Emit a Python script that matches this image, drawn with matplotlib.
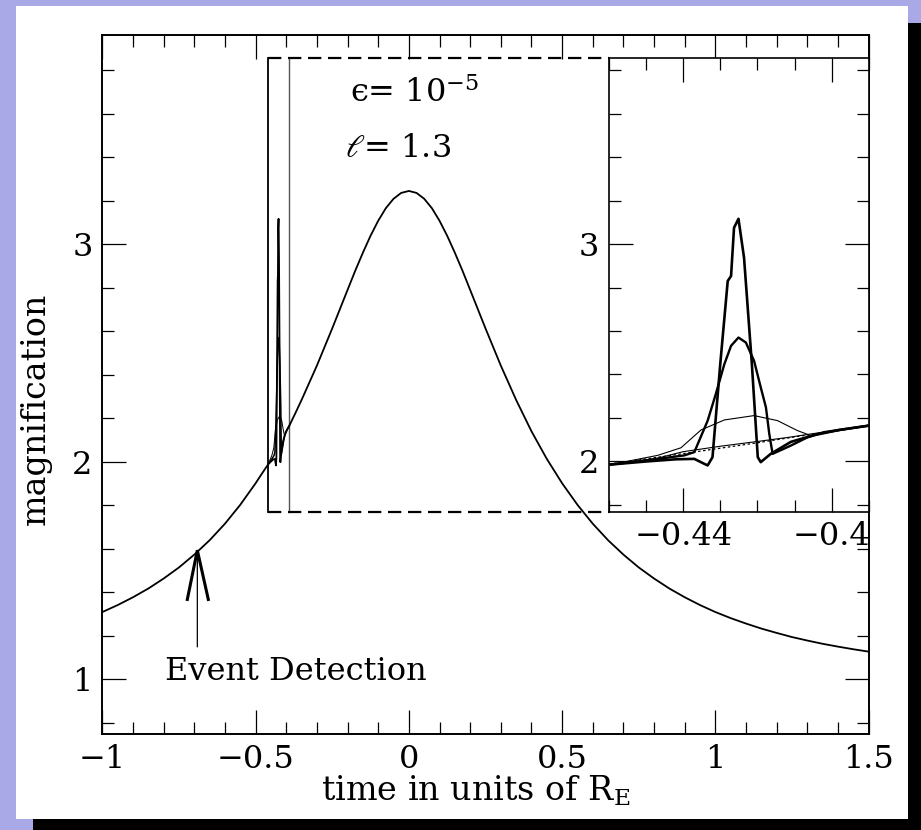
import matplotlib
matplotlib.use('Agg')
import matplotlib.pyplot as plt
from matplotlib.patches import Rectangle
from matplotlib.ticker import FixedLocator, FixedFormatter, MultipleLocator

plt.rcParams['font.family'] = ['DejaVu Serif', 'DejaVu Sans']
plt.rcParams['mathtext.fontset'] = 'dejavuserif'

# ---------------- data ----------------
# main light curve, left wing (before the planetary perturbation)
t_left = [-1.0, -0.95, -0.9, -0.85, -0.8, -0.75, -0.7, -0.65, -0.6, -0.55, -0.5, -0.48]
A_left = [1.308, 1.340, 1.376, 1.416, 1.462, 1.513, 1.572, 1.638, 1.714, 1.801, 1.900, 1.943]

# sharp perturbation (smallest source) - shown in main panel and inset
t_sharp = [-0.4595, -0.450, -0.442, -0.437, -0.4343, -0.4334, -0.4321, -0.4300, -0.4280, -0.4271,
           -0.4263, -0.4251, -0.4236, -0.4215, -0.4199, -0.4191, -0.4164, -0.4110, -0.4050, -0.3980, -0.3899]
A_sharp = [1.986, 2.000, 2.010, 2.012, 1.989, 1.982, 2.020, 2.450, 2.830, 2.853,
           3.075, 3.116, 2.937, 2.450, 2.020, 1.997, 2.035, 2.090, 2.120, 2.145, 2.165]

# main light curve, right part
t_right = [-0.37, -0.35, -0.3, -0.25, -0.2, -0.175, -0.15, -0.125, -0.1, -0.075, -0.05, -0.025,
           0.0, 0.025, 0.05, 0.075, 0.1, 0.125, 0.15, 0.175, 0.2, 0.25, 0.3, 0.35, 0.4, 0.45,
           0.5, 0.55, 0.6, 0.65, 0.7, 0.75, 0.8, 0.85, 0.9, 0.95, 1.0, 1.05, 1.1, 1.15, 1.2,
           1.25, 1.3, 1.35, 1.4, 1.45, 1.5]
A_right = [2.223, 2.283, 2.441, 2.612, 2.789, 2.877, 2.960, 3.038, 3.107, 3.165, 3.208, 3.235,
           3.244, 3.235, 3.208, 3.165, 3.107, 3.038, 2.960, 2.877, 2.789, 2.612, 2.441, 2.283, 2.139, 2.012,
           1.900, 1.801, 1.714, 1.638, 1.572, 1.513, 1.462, 1.416, 1.376, 1.340, 1.308, 1.280, 1.255, 1.232, 1.212,
           1.193, 1.177, 1.162, 1.149, 1.137, 1.126]

# medium-size source
t_med = [-0.4595, -0.450, -0.4397, -0.4370, -0.4334, -0.4312, -0.4289, -0.4271, -0.4251, -0.4231,
         -0.4209, -0.4191, -0.4177, -0.4168, -0.4159, -0.4110, -0.4065, -0.4020, -0.3899]
A_med = [1.986, 2.005, 2.028, 2.043, 2.188, 2.311, 2.448, 2.532, 2.570, 2.547,
         2.463, 2.341, 2.249, 2.127, 2.035, 2.073, 2.111, 2.135, 2.165]

# large source (broad bump)
t_big = [-0.4595, -0.4469, -0.4406, -0.4352, -0.4289, -0.4209, -0.4146, -0.4092, -0.4056, -0.3899]
A_big = [1.986, 2.028, 2.063, 2.145, 2.191, 2.211, 2.188, 2.142, 2.119, 2.165]

# very large source (slight excess)
t_huge = [-0.4595, -0.447, -0.440, -0.430, -0.420, -0.412, -0.405, -0.3899]
A_huge = [1.986, 2.015, 2.045, 2.070, 2.092, 2.110, 2.128, 2.165]

# unperturbed point-lens curve (dotted, inset)
t_base = [-0.46, -0.45, -0.44, -0.43, -0.42, -0.41, -0.40, -0.39]
A_base = [1.988, 2.012, 2.036, 2.061, 2.086, 2.113, 2.139, 2.167]

main_xticks = [-1, -0.5, 0, 0.5, 1, 1.5]
main_xlabels = ['\u22121', '\u22120.5', '0', '0.5', '1', '1.5']
main_yticks = [1, 2, 3]
main_ylabels = ['1', '2', '3']
ins_xticks = [-0.44, -0.40]
ins_xlabels = ['\u22120.44', '\u22120.4']
ins_yticks = [2, 3]
ins_ylabels = ['2', '3']

main_xlim = (-1.0, 1.5)
main_ylim = (0.746, 3.961)
ins_xlim = (-0.46, -0.39)
ins_ylim = (1.769, 3.857)

# ---------------- figure ----------------
W, H = 921, 830
fig = plt.figure(figsize=(W / 100, H / 100), dpi=100, facecolor='#a9a9e8')


def px_rect(x0, y0, x1, y1, color):
    fig.patches.append(Rectangle((x0 / W, 1 - y1 / H), (x1 - x0) / W, (y1 - y0) / H,
                                 transform=fig.transFigure, facecolor=color,
                                 edgecolor='none', zorder=-5))


px_rect(908, 23, 921, 830, 'black')
px_rect(33, 819, 921, 830, 'black')
px_rect(16, 6, 908, 819, 'white')

L, R, T, B = 102.3, 868.7, 35.0, 734.3
ax = fig.add_axes([L / W, 1 - B / H, (R - L) / W, (B - T) / H])
ax.set_facecolor('white')
ax.set_xlim(*main_xlim)
ax.set_ylim(*main_ylim)

for s in ax.spines.values():
    s.set_linewidth(1.4)

ax.xaxis.set_major_locator(FixedLocator(main_xticks))
ax.xaxis.set_major_formatter(FixedFormatter(main_xlabels))
ax.xaxis.set_minor_locator(MultipleLocator(0.1))
ax.yaxis.set_major_locator(FixedLocator(main_yticks))
ax.yaxis.set_major_formatter(FixedFormatter(main_ylabels))
ax.yaxis.set_minor_locator(MultipleLocator(0.2))
ax.tick_params(which='both', direction='in', top=True, right=True, width=0.9,
               labelsize=23, pad=7)
ax.tick_params(which='major', length=17)
ax.tick_params(which='minor', length=8.5)

# main curve
t_main = t_left + t_sharp + t_right
A_main = A_left + A_sharp + A_right
ax.plot(t_main, A_main, color='black', lw=1.3, zorder=3)
ax.plot(t_med, A_med, color='black', lw=1.1, zorder=3)
ax.plot(t_big, A_big, color='black', lw=0.7, zorder=3)

ax.set_xlabel('time in units of R$_{\\rm E}$', fontsize=24)
ax.xaxis.set_label_coords(0.4876, -0.056)
ax.set_ylabel('magnification', fontsize=24)
ax.yaxis.set_label_coords(-0.066, 0.465)

# Event Detection annotation
tip = (-0.690, 1.592)
ax.annotate('', xy=tip, xytext=(-0.690, 1.148),
            arrowprops=dict(arrowstyle='-', lw=0.9, color='black', shrinkA=0, shrinkB=0))
ax.plot([-0.7227, tip[0], -0.6542], [1.366, tip[1], 1.366], color='black', lw=2.2,
        solid_joinstyle='miter', zorder=4)
ax.text(-0.795, 0.995, 'Event Detection', fontsize=23, va='baseline', ha='left')

# parameter labels
ax.text(-0.192, 3.653, '\u03f5= 10$^{-5}$', fontsize=23, va='baseline', ha='left')
ax.text(-0.208, 3.40, '$\\ell$= 1.3', fontsize=23, va='baseline', ha='left')

# ---------------- inset ----------------
IL, IR, IT, IB = 609.0, 868.7, 57.7, 511.7
ins_pos = [IL / W, 1 - IB / H, (IR - IL) / W, (IB - IT) / H]
axins = fig.add_axes(ins_pos)
axins.set_facecolor('white')
axins.set_xlim(*ins_xlim)
axins.set_ylim(*ins_ylim)
for s in axins.spines.values():
    s.set_linewidth(1.2)
axins.xaxis.set_major_locator(FixedLocator(ins_xticks))
axins.xaxis.set_major_formatter(FixedFormatter(ins_xlabels))
axins.xaxis.set_minor_locator(MultipleLocator(0.01))
axins.yaxis.set_major_locator(FixedLocator(ins_yticks))
axins.yaxis.set_major_formatter(FixedFormatter(ins_ylabels))
axins.yaxis.set_minor_locator(MultipleLocator(0.2))
axins.tick_params(which='both', direction='in', top=True, right=True, width=0.9,
                  labelsize=23, pad=7)
axins.tick_params(which='major', length=17)
axins.tick_params(which='minor', length=8.5)

axins.plot(t_base, A_base, color='black', lw=0.9, ls=(0, (2, 2)))
axins.plot(t_huge, A_huge, color='black', lw=0.8)
axins.plot(t_big, A_big, color='black', lw=0.8)
axins.plot(t_med, A_med, color='black', lw=1.7)
axins.plot(t_sharp, A_sharp, color='black', lw=1.9)

# zoom frame in main axes
ax.plot([ins_xlim[0]] * 2, list(ins_ylim), color='black', lw=1.3, zorder=2)
ax.plot([ins_xlim[1]] * 2, list(ins_ylim), color='#555555', lw=1.0, zorder=2)
inv = ax.transData.inverted()
x_edge = inv.transform(fig.transFigure.transform((ins_pos[0], 0.5)))[0]
for yv in ins_ylim:
    ax.plot([ins_xlim[0], x_edge], [yv, yv], color='black', lw=1.6,
            ls=(0, (6, 3)), zorder=2, clip_on=False)

fig.savefig('out.png', dpi=100, facecolor=fig.get_facecolor())
